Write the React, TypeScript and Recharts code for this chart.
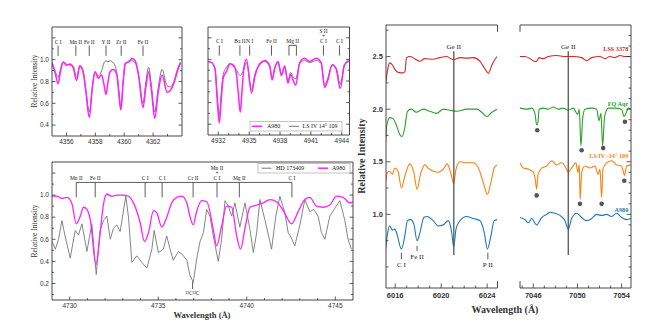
import React from 'react';
import { ComposedChart, Line, Scatter, XAxis, YAxis, ReferenceLine, ReferenceDot } from 'recharts';

const SERIF = '"Liberation Serif", "Times New Roman", serif';
const SANS = '"Liberation Sans", Arial, sans-serif';

// ---------------- DATA ----------------
// Panel 1 (4355-4364 Å)
const p1Wave = [4355.0, 4355.2, 4355.42, 4355.6, 4355.77, 4356.0, 4356.23, 4356.46, 4356.7, 4356.93, 4357.16, 4357.35, 4357.58, 4357.8, 4357.98, 4358.2, 4358.44, 4358.6, 4358.74, 4358.88, 4359.02, 4359.25, 4359.49, 4359.65, 4359.77, 4359.92, 4360.07, 4360.3, 4360.53, 4360.76, 4361.0, 4361.3, 4361.5, 4361.69, 4361.9, 4362.11, 4362.35, 4362.62, 4362.97, 4363.2, 4363.43, 4363.7, 4363.9];
const p1A980 = [0.97, 0.89, 0.78, 0.9, 0.98, 0.95, 0.96, 0.93, 0.81, 0.94, 0.88, 0.7, 0.47, 0.75, 0.89, 0.83, 0.86, 0.77, 0.68, 0.8, 0.89, 0.91, 0.86, 0.65, 0.54, 0.78, 0.96, 0.98, 1.01, 0.99, 0.85, 0.56, 0.75, 0.89, 0.7, 0.46, 0.7, 0.86, 0.7, 0.72, 0.78, 0.9, 0.97];
const p1LSIV = [0.98, 0.9, 0.84, 0.92, 0.98, 0.96, 0.95, 0.94, 0.84, 0.95, 0.9, 0.72, 0.52, 0.76, 0.89, 0.85, 0.9, 0.97, 0.99, 0.98, 0.99, 0.97, 0.88, 0.7, 0.55, 0.8, 0.97, 0.98, 0.99, 0.97, 0.86, 0.6, 0.8, 0.93, 0.74, 0.52, 0.74, 0.91, 0.76, 0.75, 0.8, 0.92, 0.98];
const p1Ids: [string, number][] = [['C I', 4355.42], ['Mn II', 4356.65], ['Fe II', 4357.58], ['Y II', 4358.74], ['Zr II', 4359.79], ['Fe II', 4361.3]];

// Panel 2 (4931-4944.75 Å)
const p2Wave = [4931.03, 4931.36, 4931.68, 4931.9, 4932.1, 4932.28, 4932.48, 4932.81, 4933.13, 4933.52, 4933.78, 4933.95, 4934.13, 4934.3, 4934.48, 4934.74, 4935.23, 4935.55, 4936.03, 4936.52, 4937.0, 4937.23, 4937.49, 4937.81, 4938.13, 4938.45, 4938.77, 4939.03, 4939.26, 4939.52, 4939.91, 4940.39, 4940.87, 4941.52, 4942.0, 4942.33, 4942.65, 4943.07, 4943.46, 4943.85, 4944.26, 4944.68];
const p2A980 = [0.98, 0.97, 0.91, 0.62, 0.41, 0.62, 0.83, 0.89, 0.96, 0.94, 0.85, 0.68, 0.51, 0.7, 0.92, 1.0, 0.69, 0.84, 0.96, 0.99, 0.94, 0.81, 0.92, 0.98, 0.85, 0.94, 0.78, 0.86, 0.81, 0.76, 0.97, 1.01, 0.98, 1.01, 0.97, 0.74, 0.81, 0.95, 0.91, 0.73, 0.95, 0.99];
const p2LSIV = [0.98, 0.97, 0.92, 0.66, 0.48, 0.68, 0.86, 0.93, 0.96, 0.93, 0.9, 0.87, 0.85, 0.87, 0.9, 0.97, 0.72, 0.86, 0.95, 0.98, 0.93, 0.83, 0.92, 0.97, 0.87, 0.92, 0.8, 0.88, 0.84, 0.82, 0.96, 0.99, 0.97, 0.99, 0.96, 0.76, 0.83, 0.95, 0.92, 0.77, 0.95, 0.98];
const p2Ids: [string[], number][] = [[['C I'], 4932.1], [['Ba II'], 4934.1], [['N I'], 4935.05], [['Fe II'], 4937.17], [['S II', '+', 'C I'], 4942.22], [['C I'], 4943.77]];
const p2MgII: [number, number] = [4938.87, 4939.59];

// Panel 3 (4729-4746 Å)
const p3WaveA980 = [4729.0, 4729.28, 4729.56, 4729.85, 4730.13, 4730.37, 4730.6, 4730.78, 4730.97, 4731.16, 4731.48, 4731.72, 4731.91, 4732.1, 4732.38, 4732.66, 4733.04, 4733.32, 4733.6, 4733.98, 4734.22, 4734.45, 4734.73, 4734.92, 4735.2, 4735.48, 4735.76, 4736.05, 4736.33, 4736.61, 4736.8, 4736.98, 4737.15, 4737.45, 4737.74, 4738.11, 4738.3, 4738.58, 4738.86, 4739.15, 4739.43, 4739.65, 4739.9, 4740.18, 4740.56, 4740.93, 4741.31, 4741.68, 4742.06, 4742.53, 4742.9, 4743.28, 4743.56, 4743.94, 4744.31, 4744.69, 4745.07, 4745.44, 4745.82, 4746.0];
const p3A980 = [0.99, 0.99, 0.97, 0.98, 0.92, 0.74, 0.81, 0.89, 0.87, 0.78, 0.37, 0.66, 0.92, 1.01, 0.99, 1.0, 1.0, 0.99, 0.93, 0.75, 0.58, 0.66, 0.86, 0.84, 0.71, 0.8, 0.93, 0.98, 0.99, 0.93, 0.8, 0.73, 0.84, 0.95, 0.94, 0.69, 0.54, 0.72, 0.9, 0.89, 0.63, 0.51, 0.7, 0.89, 0.91, 0.93, 0.96, 0.94, 0.86, 0.74, 0.85, 0.96, 0.98, 0.9, 0.89, 0.91, 0.99, 0.98, 0.93, 0.94];
const p3WaveHD = [4729.0, 4729.19, 4729.37, 4729.56, 4729.75, 4730.03, 4730.31, 4730.5, 4730.69, 4730.97, 4731.25, 4731.5, 4731.72, 4731.91, 4732.1, 4732.29, 4732.47, 4732.66, 4732.85, 4733.17, 4733.32, 4733.51, 4733.79, 4734.07, 4734.36, 4734.64, 4734.77, 4735.01, 4735.29, 4735.48, 4735.67, 4735.85, 4736.14, 4736.38, 4736.61, 4736.8, 4736.98, 4737.17, 4737.36, 4737.55, 4737.74, 4737.92, 4738.11, 4738.39, 4738.58, 4738.77, 4738.96, 4739.15, 4739.33, 4739.61, 4739.9, 4740.18, 4740.37, 4740.56, 4740.74, 4741.02, 4741.4, 4741.64, 4741.87, 4742.15, 4742.34, 4742.53, 4742.71, 4742.99, 4743.28, 4743.56, 4743.78, 4744.03, 4744.22, 4744.41, 4744.69, 4744.97, 4745.26, 4745.54, 4745.72, 4745.91];
const p3HD = [0.58, 0.51, 0.6, 0.77, 0.62, 0.43, 0.68, 0.64, 0.74, 0.49, 0.74, 0.28, 0.68, 0.77, 0.81, 0.6, 0.7, 0.73, 0.67, 0.99, 0.8, 0.39, 0.45, 0.39, 0.34, 0.51, 0.68, 0.48, 0.51, 0.63, 0.51, 0.41, 0.49, 0.46, 0.41, 0.27, 0.21, 0.42, 0.58, 0.66, 0.87, 0.81, 0.63, 0.4, 0.6, 0.95, 0.9, 0.81, 0.93, 0.71, 0.93, 0.69, 0.48, 0.66, 0.96, 0.78, 0.51, 0.81, 0.99, 0.84, 0.66, 0.61, 0.54, 0.72, 0.96, 0.85, 0.87, 0.81, 0.66, 0.6, 0.81, 0.88, 0.95, 0.77, 0.6, 0.51];
const p3Ids: [string[], number][] = [[['Mn II'], 4730.37], [['Fe II'], 4731.44], [['C I'], 4734.26], [['C I'], 4735.22], [['Cr II'], 4736.97], [['Mn II', '+', 'C I'], 4738.32], [['Mg II'], 4739.58], [['C I'], 4742.55]];

// Panel 4 (6015.2-6024.9 Å), offset spectra
const p4WaveLSS = [6015.17, 6015.37, 6015.52, 6015.76, 6015.96, 6016.25, 6016.68, 6016.86, 6016.98, 6017.27, 6017.7, 6018.14, 6018.58, 6019.3, 6019.89, 6020.48, 6021.05, 6021.64, 6022.2, 6022.8, 6023.39, 6023.82, 6024.11, 6024.41, 6024.85];
const p4LSS = [2.25, 2.39, 2.44, 2.42, 2.38, 2.35, 2.345, 2.36, 2.49, 2.5, 2.48, 2.455, 2.48, 2.475, 2.49, 2.5, 2.47, 2.49, 2.485, 2.49, 2.455, 2.38, 2.34, 2.42, 2.5];
const p4WaveFQ = [6015.17, 6015.26, 6015.52, 6015.81, 6016.1, 6016.39, 6016.6, 6016.83, 6017.07, 6017.41, 6017.84, 6018.43, 6019.0, 6019.6, 6020.18, 6020.76, 6021.35, 6022.22, 6023.1, 6023.54, 6023.97, 6024.41, 6024.85];
const p4FQ = [1.68, 1.84, 1.92, 1.91, 1.85, 1.76, 1.74, 1.82, 1.98, 2.0, 1.97, 2.0, 1.98, 1.96, 2.0, 1.99, 1.98, 2.0, 2.0, 1.97, 1.93, 1.97, 2.0];
const p4WaveLSIV = [6015.17, 6015.32, 6015.52, 6015.76, 6015.96, 6016.25, 6016.54, 6016.83, 6017.27, 6017.62, 6017.9, 6018.2, 6018.58, 6018.87, 6019.3, 6019.74, 6020.18, 6020.53, 6020.91, 6021.09, 6021.29, 6021.64, 6022.22, 6022.8, 6023.24, 6023.67, 6024.02, 6024.32, 6024.61, 6024.85];
const p4LSIV = [1.3, 1.4, 1.41, 1.38, 1.44, 1.41, 1.25, 1.36, 1.48, 1.4, 1.24, 1.38, 1.47, 1.44, 1.41, 1.4, 1.43, 1.48, 1.36, 1.29, 1.43, 1.5, 1.49, 1.49, 1.44, 1.3, 1.19, 1.3, 1.44, 1.47];
const p4WaveA980 = [6015.17, 6015.37, 6015.52, 6015.76, 6015.96, 6016.16, 6016.54, 6016.83, 6017.07, 6017.33, 6017.62, 6017.9, 6018.14, 6018.49, 6018.78, 6019.3, 6019.74, 6020.18, 6020.62, 6020.91, 6021.09, 6021.29, 6021.64, 6022.22, 6022.8, 6023.39, 6023.74, 6024.02, 6024.32, 6024.61, 6024.85];
const p4A980 = [0.67, 0.84, 0.89, 0.85, 0.86, 0.81, 0.67, 0.79, 0.94, 0.95, 0.91, 0.75, 0.82, 0.97, 0.98, 0.94, 0.89, 0.9, 0.94, 0.83, 0.69, 0.86, 0.94, 0.98, 0.96, 0.94, 0.83, 0.67, 0.79, 0.94, 0.95];
const p4Ids: [string, number, number, number][] = [['C I', 6016.54, 0.636, 0.573], ['Fe II', 6017.9, 0.7, 0.65], ['P II', 6024.06, 0.636, 0.573]];
const p4GeII = 6021.1;

// Panel 5 (7044.8-7054.85 Å)
const p5WaveLSS = [7044.8, 7045.25, 7045.7, 7046.0, 7046.24, 7046.54, 7046.9, 7047.36, 7048.12, 7048.87, 7049.62, 7050.38, 7050.83, 7051.28, 7052.04, 7052.49, 7052.94, 7053.39, 7053.85, 7054.3, 7054.84];
const p5LSS = [2.5, 2.5, 2.48, 2.46, 2.45, 2.49, 2.48, 2.5, 2.51, 2.5, 2.5, 2.49, 2.46, 2.49, 2.5, 2.48, 2.5, 2.49, 2.51, 2.5, 2.5];
const p5WaveFQ = [7044.8, 7045.4, 7045.86, 7046.15, 7046.31, 7046.4, 7046.54, 7046.9, 7047.36, 7047.81, 7048.26, 7048.71, 7049.17, 7049.62, 7050.02, 7050.16, 7050.32, 7050.47, 7050.68, 7051.28, 7051.74, 7051.95, 7052.13, 7052.28, 7052.46, 7052.79, 7053.39, 7054.0, 7054.21, 7054.39, 7054.6, 7054.84];
const p5FQ = [2.01, 2.0, 2.01, 1.96, 1.85, 1.86, 2.0, 2.01, 2.0, 2.02, 2.0, 2.01, 1.99, 2.01, 1.95, 2.0, 1.65, 1.91, 2.0, 2.01, 2.0, 1.89, 1.96, 1.65, 1.93, 2.01, 2.01, 2.0, 1.93, 1.96, 2.01, 2.0];
const p5WaveLSIV = [7044.8, 7045.1, 7045.55, 7046.0, 7046.18, 7046.31, 7046.43, 7046.76, 7047.21, 7047.67, 7048.12, 7048.57, 7049.02, 7049.17, 7049.47, 7049.86, 7050.05, 7050.16, 7050.25, 7050.38, 7050.68, 7051.13, 7051.58, 7051.88, 7052.04, 7052.19, 7052.31, 7052.64, 7053.1, 7053.55, 7054.0, 7054.14, 7054.27, 7054.45, 7054.84];
const p5LSIV = [1.49, 1.44, 1.43, 1.4, 1.33, 1.24, 1.38, 1.44, 1.46, 1.51, 1.47, 1.49, 1.43, 1.4, 1.44, 1.49, 1.4, 1.47, 1.14, 1.4, 1.46, 1.44, 1.46, 1.38, 1.43, 1.16, 1.43, 1.49, 1.51, 1.47, 1.46, 1.41, 1.37, 1.46, 1.47];
const p5WaveA980 = [7044.8, 7045.25, 7045.55, 7045.86, 7046.31, 7046.76, 7047.21, 7047.51, 7047.96, 7048.42, 7048.87, 7049.17, 7049.47, 7049.93, 7050.38, 7050.83, 7051.28, 7051.74, 7052.19, 7052.64, 7053.1, 7053.55, 7054.0, 7054.45, 7054.84];
const p5A980 = [0.97, 0.95, 0.92, 0.96, 0.9, 0.97, 1.0, 1.02, 1.01, 0.99, 0.94, 0.86, 0.96, 1.01, 0.97, 0.94, 0.96, 1.0, 0.99, 1.0, 0.98, 1.01, 0.97, 0.95, 0.96];
const p5GeII = 7049.17;
const p5DotWaveFQ = [7046.36, 7050.38, 7052.33, 7054.3];
const p5DotFQ = [1.8, 1.61, 1.63, 1.88];
const p5DotWaveLSIV = [7046.31, 7050.23, 7052.19, 7054.24];
const p5DotLSIV = [1.18, 1.1, 1.1, 1.32];
const starNames = ['LSS 3378', 'FQ Aqr', 'LS IV -14° 109', 'A980'];
const starLabelY = [2.57, 2.05, 1.56, 1.04];

// tick values
const p1XMajor = [4356, 4358, 4360, 4362];
const p2XMajor = [4932, 4935, 4938, 4941, 4944];
const p3XMajor = [4730, 4735, 4740, 4745];
const p4XMajor = [6016, 6020, 6024];
const p5XMajor = [7046, 7050, 7054];
const yMajorTop = [0.4, 0.6, 0.8, 1.0, 1.2];
const yMajorP3 = [0.2, 0.4, 0.6, 0.8, 1.0, 1.2];
const yMajorRight = [1.0, 1.5, 2.0, 2.5];

// ---------------- COLOURS ----------------
const MAGENTA = '#ff22ff';
const GREY = '#777777';
const RED = '#d62728';
const GREEN = '#2ca02c';
const ORANGE = '#ff7f0e';
const BLUE = '#1f77b4';
const AX = '#333';

// ---------------- HELPERS ----------------
const zip = (xs: number[], ys: number[]) => xs.map((x, i) => ({ x, y: ys[i] }));
const steps = (a: number, b: number, s: number) => {
  const r: number[] = [];
  for (let k = 0; a + k * s <= b + 1e-9; k++) r.push(Math.round((a + k * s) * 1000) / 1000);
  return r;
};

type Side = 'bottom' | 'top' | 'left' | 'right';
interface TickStyle { size: number; weight: string; family: string; fill: string; majorLen: number; minorLen: number; gap: number; }
const ST_SMALL: TickStyle = { size: 6.5, weight: 'normal', family: SANS, fill: '#333', majorLen: 3.5, minorLen: 2, gap: 7.5 };
const ST_BIG: TickStyle = { size: 7.5, weight: 'bold', family: SANS, fill: '#333', majorLen: 4.5, minorLen: 2.5, gap: 10 };

const makeTick = (side: Side, majors: number[], fmt: ((v: number) => string) | null, st: TickStyle) => (props: any) => {
  const { x, y, payload } = props;
  const v = Number(payload.value);
  const isMajor = majors.some((m) => Math.abs(m - v) < 1e-6);
  const L = isMajor ? st.majorLen : st.minorLen;
  let x2 = x, y2 = y;
  if (side === 'bottom') y2 = y - L;
  if (side === 'top') y2 = y + L;
  if (side === 'left') x2 = x + L;
  if (side === 'right') x2 = x - L;
  let label: React.ReactNode = null;
  if (isMajor && fmt) {
    const t = fmt(v);
    if (t) {
      if (side === 'bottom')
        label = <text x={x} y={y + st.gap} textAnchor="middle" fontSize={st.size} fontWeight={st.weight} fontFamily={st.family} fill={st.fill}>{t}</text>;
      else if (side === 'left')
        label = <text x={x - 3} y={y} dy="0.35em" textAnchor="end" fontSize={st.size} fontWeight={st.weight} fontFamily={st.family} fill={st.fill}>{t}</text>;
    }
  }
  return (
    <g>
      <line x1={x} y1={y} x2={x2} y2={y2} stroke={AX} strokeWidth={0.8} />
      {label}
    </g>
  );
};

interface AxCfg {
  xDomain: [number, number]; yDomain: [number, number];
  xTicks: number[]; xMajor: number[]; xFmt: ((v: number) => string) | null;
  yTicks: number[]; yMajor: number[]; yFmt: ((v: number) => string) | null;
  left: boolean; right: boolean; top: boolean; st: TickStyle;
}
const axisLine = { stroke: AX, strokeWidth: 0.9 };

function buildAxes(c: AxCfg) {
  const common = { type: 'number' as const, allowDataOverflow: true, interval: 0 as const, tickSize: 0, tickMargin: 0, tickLine: false, axisLine };
  const els: React.ReactNode[] = [];
  els.push(<XAxis key="xb" xAxisId="b" dataKey="x" orientation="bottom" domain={c.xDomain} ticks={c.xTicks} height={1} tick={makeTick('bottom', c.xMajor, c.xFmt, c.st)} {...common} />);
  if (c.top) els.push(<XAxis key="xt" xAxisId="t" orientation="top" domain={c.xDomain} ticks={c.xTicks} height={1} tick={makeTick('top', c.xMajor, null, c.st)} {...common} />);
  els.push(<YAxis key="yl" yAxisId="l" orientation="left" domain={c.yDomain} ticks={c.yTicks} width={c.left ? 1 : 0} hide={!c.left} tick={makeTick('left', c.yMajor, c.yFmt, c.st)} {...common} />);
  if (c.right) els.push(<YAxis key="yr" yAxisId="r" orientation="right" domain={c.yDomain} ticks={c.yTicks} width={1} tick={makeTick('right', c.yMajor, null, c.st)} {...common} />);
  return els;
}

const IdAbove = (p: any) => {
  const vb = p.viewBox || { x: 0, y: 0, width: 0, height: 0 };
  const cx = vb.x + (vb.width || 0) / 2;
  const lines: string[] = p.lines;
  const fs: number = p.fs;
  return (
    <text textAnchor="middle" fontFamily={SERIF} fontSize={fs} fontWeight={p.bold ? 'bold' : 'normal'} fill="#222">
      {lines.map((t, i) => (
        <tspan key={i} x={cx} y={vb.y - 2 - (lines.length - 1 - i) * fs * 0.95}>{t}</tspan>
      ))}
    </text>
  );
};
const IdBelow = (p: any) => {
  const vb = p.viewBox || { x: 0, y: 0, width: 0, height: 0 };
  const cx = vb.x + (vb.width || 0) / 2;
  return (
    <text x={cx} y={vb.y + (vb.height || 0) + 2 + p.fs * 0.8} textAnchor="middle" fontFamily={SERIF} fontSize={p.fs} fontWeight={p.bold ? 'bold' : 'normal'} fill="#222">
      {p.text}
    </text>
  );
};
const EndText = (p: any) => {
  const vb = p.viewBox || { x: 0, y: 0 };
  return (
    <text x={vb.x} y={vb.y} dy="0.35em" textAnchor="end" fontFamily={SERIF} fontSize={6.2} fontWeight="bold" fill={p.color}>{p.text}</text>
  );
};

const PAD = 30;
interface Box { x0: number; x1: number; y0: number; y1: number; }
function Shell(box: Box, content: React.ReactNode[], hasLeft: boolean, hasRight: boolean) {
  const w = box.x1 - box.x0;
  const h = box.y1 - box.y0;
  return (
    <div style={{ position: 'absolute', left: box.x0 - PAD, top: box.y0 - PAD }}>
      <ComposedChart
        width={w + 2 * PAD}
        height={h + 2 * PAD}
        margin={{ top: PAD - 1, bottom: PAD - 1, left: hasLeft ? PAD - 1 : PAD, right: hasRight ? PAD - 1 : PAD }}
      >
        {content}
      </ComposedChart>
    </div>
  );
}

const line = (key: string, data: { x: number; y: number }[], color: string, width: number, type: 'monotone' | 'linear' = 'monotone') => (
  <Line key={key} xAxisId="b" yAxisId="l" data={data} dataKey="y" stroke={color} strokeWidth={width} dot={false} activeDot={false} type={type} isAnimationActive={false} />
);

const seg = (key: string, x1: number, y1: number, x2: number, y2: number, label?: React.ReactElement, stroke = AX, sw = 0.8) => (
  <ReferenceLine key={key} xAxisId="b" yAxisId="l" ifOverflow="visible" segment={[{ x: x1, y: y1 }, { x: x2, y: y2 }]} stroke={stroke} strokeWidth={sw} label={label} />
);

const fmtInt = (v: number) => String(Math.round(v));
const fmtY1 = (v: number) => (v <= 1.0001 ? v.toFixed(1) : '');

// ---------------- PANELS ----------------
const B1: Box = { x0: 52, x1: 182, y0: 27, y1: 136 };
const B2: Box = { x0: 208, x1: 349.5, y0: 27, y1: 135 };
const B3: Box = { x0: 52, x1: 353, y0: 162, y1: 300 };
const B4: Box = { x0: 386, x1: 497.5, y0: 25, y1: 288 };
const B5: Box = { x0: 520, x1: 631, y0: 25, y1: 288 };

function Panel1() {
  const els: React.ReactNode[] = [
    ...buildAxes({ xDomain: [4355, 4364], yDomain: [0.3, 1.3], xTicks: steps(4356, 4363, 1), xMajor: p1XMajor, xFmt: fmtInt, yTicks: steps(0.4, 1.2, 0.1), yMajor: yMajorTop, yFmt: fmtY1, left: true, right: true, top: true, st: ST_SMALL }),
    line('g', zip(p1Wave, p1LSIV), GREY, 1),
    line('m', zip(p1Wave, p1A980), MAGENTA, 1.5),
    ...p1Ids.map(([n, w], i) => seg('id' + i, w, 1.13, w, 1.035, <IdAbove lines={[n]} fs={5.5} />)),
  ];
  return Shell(B1, els, true, true);
}

function Panel2() {
  const els: React.ReactNode[] = [
    ...buildAxes({ xDomain: [4931, 4944.75], yDomain: [0.3, 1.3], xTicks: steps(4932, 4944, 1), xMajor: p2XMajor, xFmt: fmtInt, yTicks: steps(0.4, 1.2, 0.1), yMajor: yMajorTop, yFmt: null, left: true, right: true, top: true, st: ST_SMALL }),
    line('g', zip(p2Wave, p2LSIV), GREY, 1),
    line('m', zip(p2Wave, p2A980), MAGENTA, 1.5),
    ...p2Ids.map(([n, w], i) => seg('id' + i, w, 1.13, w, 1.035, <IdAbove lines={n} fs={5.5} />)),
    seg('mg0', p2MgII[0], 1.13, p2MgII[1], 1.13, <IdAbove lines={['Mg II']} fs={5.5} />),
    seg('mg1', p2MgII[0], 1.13, p2MgII[0], 1.035),
    seg('mg2', p2MgII[1], 1.13, p2MgII[1], 1.035),
  ];
  return Shell(B2, els, true, true);
}

function Panel3() {
  const first = p3Ids[0][1];
  const last = p3Ids[p3Ids.length - 1][1];
  const els: React.ReactNode[] = [
    ...buildAxes({ xDomain: [4729, 4746], yDomain: [0.05, 1.3], xTicks: steps(4730, 4745, 1), xMajor: p3XMajor, xFmt: fmtInt, yTicks: steps(0.1, 1.2, 0.1), yMajor: yMajorP3, yFmt: fmtY1, left: true, right: true, top: true, st: ST_SMALL }),
    line('g', zip(p3WaveHD, p3HD), GREY, 0.9, 'linear'),
    line('m', zip(p3WaveA980, p3A980), MAGENTA, 1.3),
    seg('bar', first, 1.115, last, 1.115),
    ...p3Ids.map(([n, w], i) => seg('id' + i, w, 1.115, w, 0.98, <IdAbove lines={n} fs={5.5} />)),
    seg('c13', 4736.94, 0.215, 4736.94, 0.15, <IdBelow text="¹³C¹³C" fs={5.5} />),
  ];
  return Shell(B3, els, true, true);
}

const stub = 0.065;
function Panel4() {
  const els: React.ReactNode[] = [
    ...buildAxes({ xDomain: [6015.2, 6024.9], yDomain: [0.3, 2.8], xTicks: steps(6016, 6024, 1), xMajor: p4XMajor, xFmt: fmtInt, yTicks: steps(0.5, 2.75, 0.25), yMajor: yMajorRight, yFmt: (v) => v.toFixed(1), left: true, right: false, top: true, st: ST_BIG }),
    line('r', zip(p4WaveLSS, p4LSS), RED, 1.1),
    line('g', zip(p4WaveFQ, p4FQ), GREEN, 1.1),
    line('o', zip(p4WaveLSIV, p4LSIV), ORANGE, 1.1),
    line('b', zip(p4WaveA980, p4A980), BLUE, 1.1),
    seg('ge', p4GeII, 2.55, p4GeII, 0.614, <IdAbove lines={['Ge II']} fs={7} />, '#555', 1.3),
    ...p4Ids.map(([n, w, a, b], i) => seg('id' + i, w, a, w, b, <IdBelow text={n} fs={7} />)),
    seg('s1', 6024.9, 2.8, 6024.9, 2.8 - stub, undefined, AX, 0.9),
    seg('s2', 6024.9, 0.3, 6024.9, 0.3 + stub, undefined, AX, 0.9),
  ];
  return Shell(B4, els, true, false);
}

function Panel5() {
  const dotShape = (p: any) => <circle cx={p.cx} cy={p.cy} r={2.3} fill="#555" />;
  const colors = [RED, GREEN, ORANGE, BLUE];
  const els: React.ReactNode[] = [
    ...buildAxes({ xDomain: [7044.8, 7054.85], yDomain: [0.3, 2.8], xTicks: steps(7045, 7054, 1), xMajor: p5XMajor, xFmt: fmtInt, yTicks: steps(0.4, 2.7, 0.1), yMajor: yMajorRight, yFmt: null, left: false, right: true, top: true, st: ST_BIG }),
    line('r', zip(p5WaveLSS, p5LSS), RED, 1.1),
    line('g', zip(p5WaveFQ, p5FQ), GREEN, 1.1),
    line('o', zip(p5WaveLSIV, p5LSIV), ORANGE, 1.1),
    line('b', zip(p5WaveA980, p5A980), BLUE, 1.1),
    seg('ge', p5GeII, 2.55, p5GeII, 0.614, <IdAbove lines={['Ge II']} fs={7} />, '#555', 1.3),
    <Scatter key="d1" xAxisId="b" yAxisId="l" data={zip(p5DotWaveFQ, p5DotFQ)} dataKey="y" shape={dotShape} isAnimationActive={false} />,
    <Scatter key="d2" xAxisId="b" yAxisId="l" data={zip(p5DotWaveLSIV, p5DotLSIV)} dataKey="y" shape={dotShape} isAnimationActive={false} />,
    ...starNames.map((n, i) => (
      <ReferenceDot key={'lab' + i} xAxisId="b" yAxisId="l" x={7054.6} y={starLabelY[i]} r={0} ifOverflow="visible" fill="none" stroke="none" label={<EndText text={n} color={colors[i]} />} />
    )),
    seg('s1', 7044.8, 2.8, 7044.8, 2.8 - stub, undefined, AX, 0.9),
    seg('s2', 7044.8, 0.3, 7044.8, 0.3 + stub, undefined, AX, 0.9),
  ];
  return Shell(B5, els, false, true);
}

function Overlay() {
  return (
    <svg width={654} height={332} style={{ position: 'absolute', left: 0, top: 0, pointerEvents: 'none' }}>
      <text transform="translate(34,81) rotate(-90)" textAnchor="middle" dominantBaseline="central" fontFamily={SERIF} fontSize={7.5} fill="#333">Relative Intensity</text>
      <text transform="translate(34,231) rotate(-90)" textAnchor="middle" dominantBaseline="central" fontFamily={SERIF} fontSize={7.5} fill="#333">Relative Intensity</text>
      <text transform="translate(361,156) rotate(-90)" textAnchor="middle" dominantBaseline="central" fontFamily={SERIF} fontSize={10} fontWeight="bold" fill="#333">Relative Intensity</text>
      <text x={202} y={318} textAnchor="middle" fontFamily={SERIF} fontSize={8.5} fontWeight="bold" fill="#333">Wavelength (Å)</text>
      <text x={505} y={313} textAnchor="middle" fontFamily={SERIF} fontSize={10} fontWeight="bold" fill="#333">Wavelength (Å)</text>
      {/* legend panel 2 */}
      <rect x={250} y={121.5} width={92} height={9.5} fill="#fff" stroke="#999" strokeWidth={0.6} />
      <line x1={252} y1={126.3} x2={262} y2={126.3} stroke={MAGENTA} strokeWidth={1.5} />
      <text x={267} y={128.3} fontFamily={SERIF} fontSize={6} fill="#222">A980</text>
      <line x1={289} y1={126.3} x2={299} y2={126.3} stroke={GREY} strokeWidth={1} />
      <text x={302.5} y={128.3} fontFamily={SERIF} fontSize={6} fill="#222">LS IV 14° 109</text>
      {/* legend panel 3 */}
      <rect x={258} y={163.5} width={92} height={9.5} fill="#fff" stroke="#999" strokeWidth={0.6} />
      <line x1={261.5} y1={168.2} x2={271.5} y2={168.2} stroke={GREY} strokeWidth={1} />
      <text x={276} y={170.3} fontFamily={SERIF} fontSize={6} fill="#222">HD 173409</text>
      <line x1={318} y1={168.2} x2={328} y2={168.2} stroke={MAGENTA} strokeWidth={1.5} />
      <text x={332} y={170.3} fontFamily={SERIF} fontSize={6} fill="#222">A980</text>
    </svg>
  );
}

export default function App() {
  return (
    <div style={{ position: 'absolute', left: 0, top: 0, width: 654, height: 332, background: '#fff', overflow: 'hidden' }}>
      <Panel1 />
      <Panel2 />
      <Panel3 />
      <Panel4 />
      <Panel5 />
      <Overlay />
    </div>
  );
}
